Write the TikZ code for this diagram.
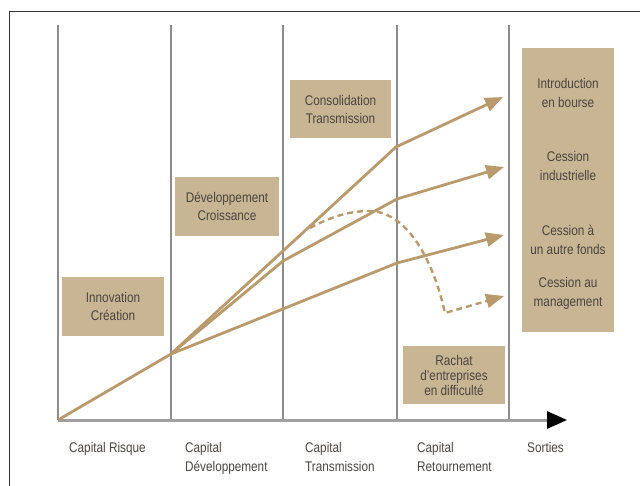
\documentclass[tikz,border=0pt]{standalone}
\usepackage{fontspec}
\setmainfont{Liberation Sans}[FakeStretch=0.84]
\usetikzlibrary{arrows.meta}
\definecolor{boxtan}{HTML}{C8B593}
\definecolor{trail}{HTML}{B89A6C}
\definecolor{ink}{HTML}{4A4540}
\definecolor{stagegray}{HTML}{8C8C8C}
\begin{document}
\begin{tikzpicture}[x=1pt,y=-1pt,
  stageline/.style={draw=stagegray, line width=1.4pt},
  frameline/.style={draw=black!80, line width=1pt},
  boxlabel/.style={fill=boxtan, text=ink, align=center, inner sep=0pt,
    font=\fontsize{14}{18}\selectfont},
  exitlabel/.style={text=ink, align=center, inner sep=0pt,
    font=\fontsize{14}{19}\selectfont},
  axislabel/.style={text=ink, align=left, anchor=north west, inner sep=0pt,
    font=\fontsize{14}{19}\selectfont},
  trailline/.style={draw=trail, line width=2.8pt, line join=round},
  headed/.style={-{Triangle[length=18pt,width=14pt]}},
  dashtrail/.style={trailline, line width=2.4pt, dash pattern=on 6pt off 4pt}
]
\useasboundingbox (0,0) rectangle (640,486);

% outer frame (top and left edges)
\coordinate (fl) at (9,486);
\coordinate (fc) at (9,11.5);
\coordinate (fr) at (640,11.5);
\draw[frameline] (fl) -- (fc) -- (fr);

% stage separators and time axis
\foreach \n/\x in {s0/58,s1/171,s2/283,s3/397,s4/509}{
  \coordinate (\n top) at (\x,25);
  \coordinate (\n) at (\x,420);
  \draw[stageline] (\n top) -- (\n);
}
\coordinate (axisend) at (567,420);
\draw[draw=gray!75, line width=3pt, -{Triangle[length=20pt,width=17pt,color=black]}] (s0) -- (axisend);

% stage boxes
\node[boxlabel, minimum width=102, minimum height=59] (innov) at (113,306.5) {Innovation\\Création};
\node[boxlabel, minimum width=104, minimum height=59] (dev) at (227,206.5) {Développement\\Croissance};
\node[boxlabel, minimum width=101, minimum height=58] (conso) at (340.5,109) {Consolidation\\Transmission};
\node[boxlabel, minimum width=102, minimum height=58, font=\fontsize{14}{15}\selectfont] (rachat) at (454,375) {Rachat\\d'entreprises\\en difficulté};

% exits column
\node[fill=boxtan, minimum width=92, minimum height=284, inner sep=0pt] (exits) at (568,190) {};
\node[exitlabel] (ipo) at (568,92.5) {Introduction\\en bourse};
\node[exitlabel] (indus) at (568,165.5) {Cession\\industrielle};
\node[exitlabel] (fonds) at (568,240) {Cession à\\un autre fonds};
\node[exitlabel] (mgmt) at (568,293.5) {Cession au\\management};

% growth trajectories
\coordinate (o) at (58,420);
\coordinate (k) at (171,354);
\coordinate (a1) at (396,147);
\coordinate (a2) at (503,97);
\coordinate (b1) at (283,261);
\coordinate (b2) at (397,199);
\coordinate (b3) at (504,167);
\coordinate (c1) at (397,263);
\coordinate (c2) at (504,235);
\draw[trailline] (o) -- (k);
\draw[trailline, headed] (k) -- (a1) -- (a2);
\draw[trailline, headed] (k) -- (b1) -- (b2) -- (b3);
\draw[trailline, headed] (k) -- (c1) -- (c2);

% turnaround trajectory
\coordinate (d0) at (310,228);
\coordinate (d1) at (370,211);
\coordinate (d2) at (445,313);
\coordinate (d3) at (504,296);
\draw[dashtrail, headed] (d0) .. controls (334,215) and (352,211) .. (d1)
  .. controls (405,212) and (432,255) .. (d2) -- (d3);

% stage names under the axis
\node[axislabel] (l0) at (69,442) {Capital Risque};
\node[axislabel] (l1) at (185,442) {Capital\\Développement};
\node[axislabel] (l2) at (305,442) {Capital\\Transmission};
\node[axislabel] (l3) at (417,442) {Capital\\Retournement};
\node[axislabel] (l4) at (527,442) {Sorties};
\end{tikzpicture}
\end{document}
